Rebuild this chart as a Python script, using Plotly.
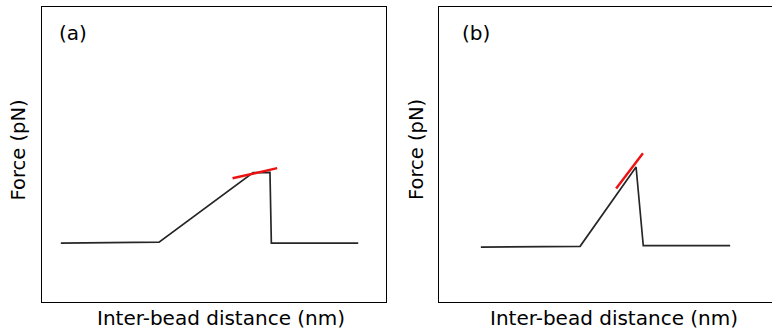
import plotly.graph_objects as go

# Schematic force-extension traces (arbitrary units)
a_x = [0.54, 3.40, 6.14, 6.63, 6.67, 9.20]
a_y = [1.99, 2.02, 4.38, 4.39, 1.99, 1.99]
a_fit_x = [5.54, 6.84]
a_fit_y = [4.19, 4.53]

b_x = [1.21, 4.10, 5.73, 5.94, 8.47]
b_y = [1.85, 1.88, 4.57, 1.90, 1.90]
b_fit_x = [5.15, 5.93]
b_fit_y = [3.84, 5.04]

panel_labels = ["(a)", "(b)"]
x_title = "Inter-bead distance (nm)"
y_title = "Force (pN)"

W, H = 772, 330
FONT = "DejaVu Sans"
line_col = "#262626"
fit_col = "#ee1111"

fig = go.Figure()
fig.add_trace(go.Scatter(x=a_x, y=a_y, mode="lines", line=dict(color=line_col, width=1.7),
                         xaxis="x", yaxis="y", showlegend=False))
fig.add_trace(go.Scatter(x=a_fit_x, y=a_fit_y, mode="lines", line=dict(color=fit_col, width=2.4),
                         xaxis="x", yaxis="y", showlegend=False))
fig.add_trace(go.Scatter(x=b_x, y=b_y, mode="lines", line=dict(color=line_col, width=1.7),
                         xaxis="x2", yaxis="y2", showlegend=False))
fig.add_trace(go.Scatter(x=b_fit_x, y=b_fit_y, mode="lines", line=dict(color=fit_col, width=2.4),
                         xaxis="x2", yaxis="y2", showlegend=False))

ydom = [(H - 301.7) / H, (H - 7) / H]
ax_common = dict(showgrid=False, zeroline=False, showticklabels=False, ticks="",
                 showline=True, linecolor="black", linewidth=1.3)

fig.update_layout(
    width=W, height=H,
    margin=dict(l=0, r=0, t=0, b=0),
    paper_bgcolor="white", plot_bgcolor="white",
    xaxis=dict(domain=[42.3 / W, 385.7 / W], range=[0, 10], mirror=True, anchor="y", **ax_common),
    yaxis=dict(domain=ydom, range=[0, 10], mirror=True, anchor="x", **ax_common),
    xaxis2=dict(domain=[439.3 / W, 1.0], range=[0, (W - 439.3) / 343.4 * 10], mirror=True,
                anchor="y2", **ax_common),
    yaxis2=dict(domain=ydom, range=[0, 10], mirror=False, anchor="x2", **ax_common),
)

annots = []
for lbl, cx, xc_title in [(panel_labels[0], 72.5, 221), (panel_labels[1], 475.5, 614)]:
    annots.append(dict(text=lbl, x=cx / W, y=1 - 33 / H, xref="paper", yref="paper",
                       showarrow=False, xanchor="center", yanchor="middle",
                       font=dict(family=FONT, size=20, color="black")))
    annots.append(dict(text=x_title, x=xc_title / W, y=1 - 317.5 / H, xref="paper", yref="paper",
                       showarrow=False, xanchor="center", yanchor="middle",
                       font=dict(family=FONT, size=20, color="black")))
for cx in [17.5, 416]:
    annots.append(dict(text=y_title, x=cx / W, y=1 - 150 / H, xref="paper", yref="paper",
                       showarrow=False, xanchor="center", yanchor="middle", textangle=-90,
                       font=dict(family=FONT, size=19.5, color="black")))
fig.update_layout(annotations=annots)

fig.write_html("out.html")
